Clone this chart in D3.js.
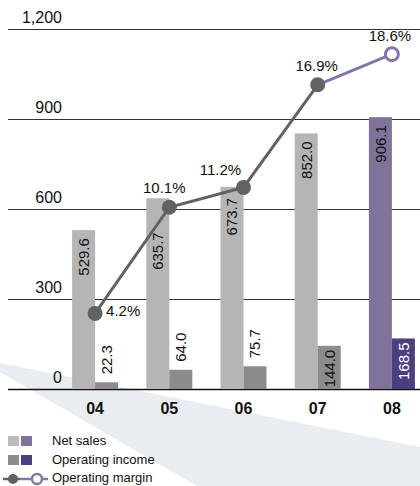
<!DOCTYPE html>
<html><head><meta charset="utf-8">
<script src="https://cdn.jsdelivr.net/npm/d3@7"></script>
<style>
html,body{margin:0;padding:0;background:#fff;}
svg{display:block;font-family:"Liberation Sans",Arial,sans-serif;}
</style></head>
<body>
<svg id="c" width="420" height="486"></svg>
<script>
const categories = ["04","05","06","07","08"];
const netSales = [529.6, 635.7, 673.7, 852.0, 906.1];
const operatingIncome = [22.3, 64.0, 75.7, 144.0, 168.5];
const operatingMargin = [4.2, 10.1, 11.2, 16.9, 18.6];
const yTicks = [0, 300, 600, 900, 1200];
const yTickLabels = ["0", "300", "600", "900", "1,200"];
const legendLabels = ["Net sales", "Operating income", "Operating margin"];

const svg = d3.select("#c");
const W = 420, H = 486;
const col = {ns:"#b5b5b5", oi:"#8c8c8c", nsP:"#807399", oiP:"#4b3f7e", lineG:"#626262", lineP:"#8576a5"};

// background swoosh
svg.append("path")
  .attr("d","M0,363 L420,447 L420,486 L197,486 L0,372 Z")
  .attr("fill","#e9ecf1");

const y = d3.scaleLinear().domain([0,1200]).range([389,29]);
const y2 = d3.scaleLinear().domain([0,20]).range([389,29]);
const x = d3.scaleBand().domain(categories).range([58,429]).padding(0);
const cx = c => x(c) + x.bandwidth()/2;
const bw = 23;

// grid lines
const g = svg.append("g");
g.selectAll("line").data(yTicks).join("line")
  .attr("x1",8).attr("x2",W)
  .attr("y1",d=>Math.round(y(d))+0.5).attr("y2",d=>Math.round(y(d))+0.5)
  .attr("stroke",(d)=> d===0 ? "#111" : "#333")
  .attr("stroke-width",(d)=> d===0 ? 1.6 : 1.2);
g.selectAll("text").data(yTicks).join("text")
  .attr("x",62).attr("y",d=>y(d)-6)
  .attr("text-anchor","end").attr("font-size",16).attr("fill","#111")
  .text((d,i)=>yTickLabels[i]);

const isLast = i => i === categories.length-1;

// net sales bars
svg.append("g").selectAll("rect").data(netSales).join("rect")
  .attr("x",(d,i)=>cx(categories[i])-bw).attr("width",bw)
  .attr("y",d=>y(d)).attr("height",d=>y(0)-y(d))
  .attr("fill",(d,i)=>isLast(i)?col.nsP:col.ns);
// operating income bars
svg.append("g").selectAll("rect").data(operatingIncome).join("rect")
  .attr("x",(d,i)=>cx(categories[i])).attr("width",bw)
  .attr("y",d=>y(d)).attr("height",d=>y(0)-y(d))
  .attr("fill",(d,i)=>isLast(i)?col.oiP:col.oi);

// net sales labels (rotated, inside top)
const nsShift = {"05":26, "06":3};
svg.append("g").selectAll("text").data(netSales).join("text")
  .attr("transform",(d,i)=>`translate(${cx(categories[i])-bw/2},${y(d)+8+(nsShift[categories[i]]||0)}) rotate(-90)`)
  .attr("dy","0.36em").attr("text-anchor","end").attr("font-size",15).attr("fill","#111")
  .text(d=>d.toFixed(1));

// operating income labels
svg.append("g").selectAll("text").data(operatingIncome).join("text")
  .each(function(d,i){
    const h = y(0)-y(d);
    const inside = h > 40;
    d3.select(this)
      .attr("transform",`translate(${cx(categories[i])+bw/2},${inside ? y(d)+4 : y(d)-8}) rotate(-90)`)
      .attr("text-anchor", inside ? "end" : "start")
      .attr("fill", inside && isLast(i) ? "#fff" : "#111");
  })
  .attr("dy","0.36em").attr("font-size",15)
  .text(d=>d.toFixed(1));

// operating margin line
const pts = operatingMargin.map((v,i)=>[cx(categories[i]), y2(v)]);
const line = d3.line();
svg.append("path").attr("d",line(pts.slice(0,4))).attr("fill","none")
  .attr("stroke",col.lineG).attr("stroke-width",3);
svg.append("path").attr("d",line(pts.slice(3))).attr("fill","none")
  .attr("stroke",col.lineP).attr("stroke-width",3);
svg.append("g").selectAll("circle").data(pts).join("circle")
  .attr("cx",d=>d[0]).attr("cy",d=>d[1])
  .attr("r",(d,i)=>isLast(i)?6.5:7.5)
  .attr("fill",(d,i)=>isLast(i)?"#fff":col.lineG)
  .attr("stroke",(d,i)=>isLast(i)?col.lineP:"none")
  .attr("stroke-width",3);

const pctLayout = {
  "04":{dx:11, dy:3, a:"start"},
  "05":{dx:-5, dy:-14, a:"middle"},
  "06":{dx:-23, dy:-12, a:"middle"},
  "07":{dx:-1, dy:-14, a:"middle"},
  "08":{dx:-2, dy:-13, a:"middle"}
};
svg.append("g").selectAll("text").data(operatingMargin).join("text")
  .attr("x",(d,i)=>pts[i][0]+pctLayout[categories[i]].dx)
  .attr("y",(d,i)=>pts[i][1]+pctLayout[categories[i]].dy)
  .attr("text-anchor",(d,i)=>pctLayout[categories[i]].a)
  .attr("font-size",15).attr("fill","#111")
  .text(d=>d.toFixed(1)+"%");

// x axis labels
svg.append("g").selectAll("text").data(categories).join("text")
  .attr("x",d=>cx(d)).attr("y",414)
  .attr("text-anchor","middle").attr("font-size",16).attr("font-weight","bold").attr("fill","#111")
  .text(d=>d);

// legend
const lg = svg.append("g");
lg.append("rect").attr("x",8).attr("y",436).attr("width",11).attr("height",10).attr("fill","#bcbcbc");
lg.append("rect").attr("x",21).attr("y",436).attr("width",11).attr("height",10).attr("fill",col.nsP);
lg.append("rect").attr("x",8).attr("y",455).attr("width",11).attr("height",10).attr("fill",col.oi);
lg.append("rect").attr("x",21).attr("y",455).attr("width",11).attr("height",10).attr("fill",col.oiP);
lg.append("line").attr("x1",3).attr("x2",20).attr("y1",479).attr("y2",479).attr("stroke",col.lineG).attr("stroke-width",2.5);
lg.append("circle").attr("cx",13).attr("cy",479).attr("r",5).attr("fill",col.lineG);
lg.append("line").attr("x1",20).attr("x2",48).attr("y1",479).attr("y2",479).attr("stroke",col.lineP).attr("stroke-width",2.5);
lg.append("circle").attr("cx",37).attr("cy",479).attr("r",5).attr("fill","#fff").attr("stroke",col.lineP).attr("stroke-width",2.5);
lg.selectAll("text").data(legendLabels).join("text")
  .attr("x",52).attr("y",(d,i)=>[445,464,482][i])
  .attr("font-size",13).attr("fill","#111")
  .text(d=>d);
</script>
</body></html>
